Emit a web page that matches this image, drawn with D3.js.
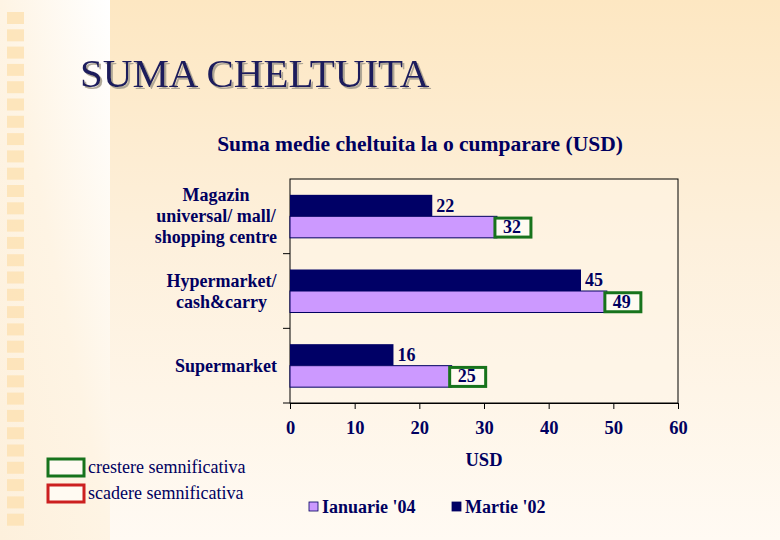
<!DOCTYPE html>
<html><head><meta charset="utf-8">
<script src="https://cdn.jsdelivr.net/npm/d3@7"></script>
<style>body{margin:0;padding:0;overflow:hidden}svg{display:block}</style>
</head><body>
<script>
// ---- data ----
const categories = ["Magazin universal/ mall/ shopping centre", "Hypermarket/ cash&carry", "Supermarket"];
const categoryLines = [["Magazin", "universal/ mall/", "shopping centre"], ["Hypermarket/", "cash&carry"], ["Supermarket"]];
const seriesNames = ["Martie '02", "Ianuarie '04"];
const martie02 = [22, 45, 16];
const ianuarie04 = [32, 49, 25];
const ianuarieSignif = ["up", "up", "up"]; // up = crestere semnificativa
const xTicks = [0, 10, 20, 30, 40, 50, 60];
const legendOrder = ["Ianuarie '04", "Martie '02"];
const signifLegend = [["up", "crestere semnificativa"], ["down", "scadere semnificativa"]];

const W = 780, H = 540;
const navy = "#000060";
const colors = {"Martie '02": "#000066", "Ianuarie '04": "#cc99ff"};
const signifColor = {up: "#17731c", down: "#cc1f1f"};
const serif = "'Liberation Serif','Times New Roman',serif";

const svg = d3.select("body").append("svg").attr("width", W).attr("height", H);
const defs = svg.append("defs");
const g1 = defs.append("linearGradient").attr("id", "bg").attr("x1", 0).attr("y1", 0).attr("x2", 0).attr("y2", 1);
g1.append("stop").attr("offset", 0).attr("stop-color", "#fde7c2");
g1.append("stop").attr("offset", 0.45).attr("stop-color", "#fdf0dc");
g1.append("stop").attr("offset", 1).attr("stop-color", "#fffaf3");
const g2 = defs.append("linearGradient").attr("id", "lp").attr("x1", 1).attr("y1", 0).attr("x2", 0).attr("y2", 1);
g2.append("stop").attr("offset", 0).attr("stop-color", "#ffffff");
g2.append("stop").attr("offset", 0.5).attr("stop-color", "#fef4e4");
g2.append("stop").attr("offset", 1).attr("stop-color", "#fdf0dc");
const sh = defs.append("filter").attr("id", "shadow").attr("x", -0.1).attr("y", -0.2).attr("width", 1.2).attr("height", 1.4);
sh.append("feDropShadow").attr("dx", 2).attr("dy", 2).attr("stdDeviation", 0.3).attr("flood-color", "#a8a090").attr("flood-opacity", 0.9);

svg.append("rect").attr("width", W).attr("height", H).attr("fill", "url(#bg)");
svg.append("rect").attr("width", 110).attr("height", H).attr("fill", "url(#lp)");
// decorative tiles
svg.append("g").selectAll("rect").data(d3.range(30)).join("rect")
  .attr("x", 7).attr("y", i => 12 + i * 17.3).attr("width", 17).attr("height", 12)
  .attr("fill", "#fde2b4").attr("opacity", 0.85);

// slide title
svg.append("text").attr("x", 80).attr("y", 87).text("SUMA CHELTUITA")
  .attr("font-family", serif).attr("font-size", 41).attr("fill", "#1c1c5c").attr("filter", "url(#shadow)");

// chart title
svg.append("text").attr("x", 420).attr("y", 151).attr("text-anchor", "middle")
  .text("Suma medie cheltuita la o cumparare (USD)")
  .attr("font-family", serif).attr("font-weight", "bold").attr("font-size", 21.5).attr("fill", navy);

// plot
const pl = 290, pr = 678, pt = 179, pb = 403;
const x = d3.scaleLinear().domain([0, 60]).range([pl, pr]);
const y = d3.scaleBand().domain(categories).range([pt, pb]);
const yi = d3.scaleBand().domain(seriesNames).range([y.bandwidth() * 0.212, y.bandwidth() * 0.788]);

const plot = svg.append("g");
plot.append("rect").attr("x", pl).attr("y", pt).attr("width", pr - pl).attr("height", pb - pt)
  .attr("fill", "#fff6e8").attr("fill-opacity", 0.45).attr("stroke", "#000").attr("stroke-width", 1);

const rows = categories.map((c, i) => ({c, i, vals: [
  {s: "Martie '02", v: martie02[i]}, {s: "Ianuarie '04", v: ianuarie04[i], sig: ianuarieSignif[i]}]}));

const rowG = plot.selectAll("g.row").data(rows).join("g").attr("class", "row")
  .attr("transform", d => `translate(0,${y(d.c)})`);
rowG.selectAll("rect.bar").data(d => d.vals).join("rect").attr("class", "bar")
  .attr("x", x(0)).attr("y", d => yi(d.s)).attr("width", d => x(d.v) - x(0)).attr("height", yi.bandwidth())
  .attr("fill", d => colors[d.s])
  .attr("stroke", navy).attr("stroke-width", d => d.s === "Ianuarie '04" ? 1 : 0);

// value labels
rowG.selectAll("g.lab").data(d => d.vals).join("g").attr("class", "lab").each(function(d) {
  const g = d3.select(this);
  const cy = yi(d.s) + yi.bandwidth() / 2;
  const tx = x(d.v) + (d.sig ? 6 : 4);
  if (d.sig) {
    g.append("rect").attr("x", tx - 8).attr("y", cy - 9).attr("width", 36).attr("height", 19)
      .attr("fill", "#fffaf2").attr("stroke", signifColor[d.sig]).attr("stroke-width", 3);
  }
  g.append("text").attr("x", tx).attr("y", cy + 6).text(d.v)
    .attr("font-family", serif).attr("font-weight", "bold").attr("font-size", 18).attr("fill", navy);
});

// y axis ticks at category boundaries
const yb = [pt + y.step(), pt + 2 * y.step(), pb];
plot.selectAll("line.ytick").data(yb).join("line").attr("class", "ytick")
  .attr("x1", pl - 7).attr("x2", pl).attr("y1", d => d).attr("y2", d => d).attr("stroke", "#000");

// category labels
categoryLines.forEach((lines, i) => {
  const n = lines.length;
  const cy = y(categories[i]) + y.bandwidth() / 2;
  const t = plot.append("text").attr("font-family", serif).attr("font-weight", "bold")
    .attr("font-size", 18).attr("fill", navy).attr("text-anchor", "middle");
  lines.forEach((l, k) => t.append("tspan").attr("x", 0).attr("y", cy + 6 + (k - (n - 1) / 2) * 21).text(l));
  const w = t.node().getBBox().width;
  t.attr("transform", `translate(${277 - w / 2},0)`);
});

// x axis
const xAxis = d3.axisBottom(x).tickValues(xTicks).tickSize(6).tickSizeOuter(0).tickPadding(12);
const xg = plot.append("g").attr("transform", `translate(0,${pb})`).call(xAxis);
xg.select(".domain").attr("stroke", "#000");
xg.selectAll(".tick line").attr("stroke", "#000");
xg.selectAll(".tick text").attr("font-family", serif).attr("font-weight", "bold")
  .attr("font-size", 18.5).attr("fill", navy);

svg.append("text").attr("x", 484).attr("y", 466).attr("text-anchor", "middle").text("USD")
  .attr("font-family", serif).attr("font-weight", "bold").attr("font-size", 18.5).attr("fill", navy);

// series legend
const lg = svg.append("g").selectAll("g").data(legendOrder).join("g")
  .attr("transform", (d, i) => `translate(${309 + i * 143},${507})`);
lg.append("rect").attr("x", 0).attr("y", -5).attr("width", 9).attr("height", 9)
  .attr("fill", d => colors[d]).attr("stroke", navy).attr("stroke-width", 0.8);
lg.append("text").attr("x", 13).attr("y", 6).text(d => d)
  .attr("font-family", serif).attr("font-weight", "bold").attr("font-size", 18).attr("fill", navy);

// significance legend
const sg = svg.append("g").selectAll("g").data(signifLegend).join("g")
  .attr("transform", (d, i) => `translate(0,${i * 26})`);
sg.append("rect").attr("x", 48).attr("y", 459).attr("width", 36).attr("height", 17)
  .attr("fill", "#fffaf2").attr("stroke", d => signifColor[d[0]]).attr("stroke-width", 3);
sg.append("text").attr("x", 88).attr("y", 473).text(d => d[1])
  .attr("font-family", serif).attr("font-size", 18).attr("fill", navy);
</script>
</body></html>
